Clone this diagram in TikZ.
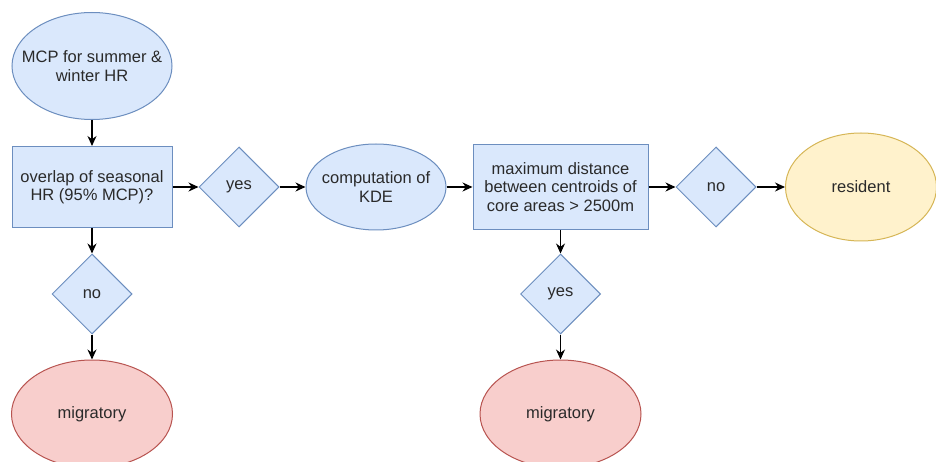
\documentclass[tikz,border=0pt]{standalone}
\usepackage{fontspec}
\setmainfont{Liberation Sans}
\usetikzlibrary{shapes.geometric,arrows.meta}

\definecolor{blueFill}{HTML}{DAE8FC}
\definecolor{blueLine}{HTML}{6C8EBF}
\definecolor{redFill}{HTML}{F8CECC}
\definecolor{redLine}{HTML}{B85450}
\definecolor{yellowFill}{HTML}{FFF2CC}
\definecolor{yellowLine}{HTML}{D6B656}
\definecolor{textGray}{HTML}{2A2A2A}

\tikzset{
  box/.style={draw, line width=1pt, align=center, inner sep=0pt,
    font=\fontsize{16.5}{18.5}\selectfont, text=textGray},
  oval/.style={box, ellipse, inner xsep=-20pt, inner ysep=-10pt},
  blueoval/.style={oval, draw=blueLine, fill=blueFill},
  redoval/.style={oval, draw=redLine, fill=redFill,
    minimum width=161pt, minimum height=108pt},
  yellowoval/.style={oval, draw=yellowLine, fill=yellowFill},
  bluerect/.style={box, rectangle, draw=blueLine, fill=blueFill},
  choice/.style={box, diamond, aspect=1, draw=blueLine, fill=blueFill,
    minimum size=80pt},
  flow/.style={line width=1.1pt, -{Stealth[length=10pt,width=9pt]}}
}

\begin{document}
\begin{tikzpicture}[x=1pt, y=-1pt]
			\clip (0,0) rectangle (936,462);
			\fill[white] (0,0) rectangle (936,462);

			% Define nodes
			\node (mcp) at (92,66) [blueoval, minimum width=160pt, minimum height=107pt] {MCP for summer \&\\winter HR};
			\node (overlap) at (92,187) [bluerect, minimum width=160pt, minimum height=81pt] {overlap of seasonal\\HR (95\% MCP)?};
			\node (yesA) at (239,187) [choice] {yes};
			\node (kde) at (376,187) [blueoval, minimum width=140pt, minimum height=86pt] {computation of\\KDE};
			\node (maxdist) at (560.5,187) [bluerect, minimum width=175pt, minimum height=85pt] {maximum distance\\between centroids of\\core areas > 2500m};
			\node (noB) at (716,187) [choice] {no};
			\node (resident) at (861,187) [yellowoval, minimum width=151pt, minimum height=108pt] {resident};
			\node (noA) at (92,294) [choice] {no};
			\node (migA) at (92,414) [redoval] {migratory};
			\node (yesB) at (560.5,294) [choice] {yes};
			\node (migB) at (560.5,414) [redoval] {migratory};

			% Draw edges
			\draw[flow] (mcp) -- (overlap);
			\draw[flow] (overlap) -- (yesA);
			\draw[flow] (yesA) -- (kde);
			\draw[flow] (kde) -- (maxdist);
			\draw[flow] (maxdist) -- (noB);
			\draw[flow] (noB) -- (resident);
			\draw[flow] (overlap) -- (noA);
			\draw[flow] (noA) -- (migA);
			\draw[flow] (maxdist) -- (yesB);
			\draw[flow] (yesB) -- (migB);
		\end{tikzpicture}
\end{document}
